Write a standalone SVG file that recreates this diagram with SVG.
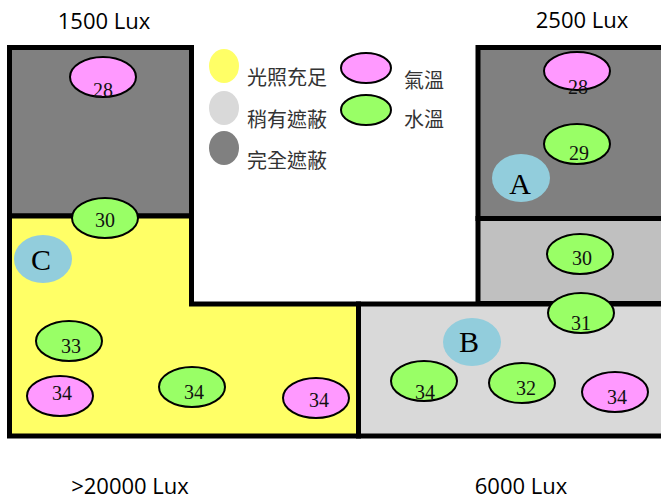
<svg xmlns="http://www.w3.org/2000/svg" width="661" height="499" viewBox="0 0 661 499">
  <style>
    .wall { stroke: #000; stroke-width: 5; stroke-linejoin: miter; }
    .dark { fill: #808080; }
    .sun { fill: #ffff66; }
    .part { fill: #d9d9d9; }
    .silver { fill: #c0c0c0; }
    .air { fill: #ff99ff; stroke: #000; stroke-width: 2; }
    .water { fill: #99ff66; stroke: #000; stroke-width: 2; }
    .zone { fill: #92cddc; }
    .num { font-family: "Liberation Serif", "Times New Roman", serif; font-size: 20px; fill: #111; text-anchor: middle; }
    .tag { font-family: "Liberation Serif", "Times New Roman", serif; font-size: 30px; fill: #000; text-anchor: middle; }
    .lux { font-family: "Open Sans", "Liberation Sans", sans-serif; font-size: 22px; fill: #000; text-anchor: middle; }
    .key { font-family: "Noto Sans CJK TC", "Noto Sans CJK SC", sans-serif; font-size: 20px; fill: #333; }
  </style>

  <!-- rooms -->
  <g id="room-left-shaded">
    <rect class="dark wall" x="9.5" y="47.5" width="182" height="168.5"/>
  </g>
  <g id="room-sunny">
    <polygon class="sun wall" points="9.5,216 191.5,216 191.5,304 358.5,304 358.5,436 9.5,436"/>
  </g>
  <g id="room-right-shaded">
    <rect class="dark wall" x="478" y="47.5" width="190" height="171"/>
  </g>
  <g id="room-right-partial">
    <rect class="silver wall" x="478" y="218.5" width="190" height="85"/>
  </g>
  <g id="room-bottom-partial">
    <rect class="part wall" x="358.5" y="304" width="310" height="132"/>
  </g>

  <!-- zone markers -->
  <g id="zone-A">
    <ellipse class="zone" cx="521" cy="178" rx="29" ry="24"/>
    <text class="tag" x="520" y="194">A</text>
  </g>
  <g id="zone-B">
    <ellipse class="zone" cx="472" cy="342" rx="29" ry="24"/>
    <text class="tag" x="469" y="352">B</text>
  </g>
  <g id="zone-C">
    <ellipse class="zone" cx="43" cy="259" rx="29" ry="24"/>
    <text class="tag" x="41" y="270">C</text>
  </g>

  <!-- temperature readings -->
  <g id="t-left-28">
    <ellipse class="air" cx="103" cy="77" rx="33" ry="20"/>
    <text class="num" x="103" y="97">28</text>
  </g>
  <g id="t-left-30">
    <ellipse class="water" cx="105" cy="218" rx="33" ry="20"/>
    <text class="num" x="105" y="227">30</text>
  </g>
  <g id="t-left-33">
    <ellipse class="water" cx="69" cy="341" rx="33" ry="20"/>
    <text class="num" x="71" y="353">33</text>
  </g>
  <g id="t-left-34a">
    <ellipse class="air" cx="60" cy="396" rx="33" ry="20"/>
    <text class="num" x="62" y="400">34</text>
  </g>
  <g id="t-mid-34">
    <ellipse class="water" cx="192" cy="387" rx="33" ry="20"/>
    <text class="num" x="194" y="399">34</text>
  </g>
  <g id="t-mid-34b">
    <ellipse class="air" cx="316" cy="398" rx="33" ry="20"/>
    <text class="num" x="319" y="407">34</text>
  </g>
  <g id="t-right-28">
    <ellipse class="air" cx="577" cy="71" rx="33" ry="19"/>
    <text class="num" x="578" y="94">28</text>
  </g>
  <g id="t-right-29">
    <ellipse class="water" cx="577" cy="144" rx="33" ry="20"/>
    <text class="num" x="579" y="160">29</text>
  </g>
  <g id="t-right-30">
    <ellipse class="water" cx="580" cy="254" rx="33" ry="20"/>
    <text class="num" x="582" y="265">30</text>
  </g>
  <g id="t-right-31">
    <ellipse class="water" cx="581" cy="313" rx="33" ry="20"/>
    <text class="num" x="581" y="330">31</text>
  </g>
  <g id="t-bottom-34a">
    <ellipse class="water" cx="424" cy="381" rx="33" ry="20"/>
    <text class="num" x="425" y="399">34</text>
  </g>
  <g id="t-bottom-32">
    <ellipse class="water" cx="522" cy="383" rx="33" ry="20"/>
    <text class="num" x="526" y="395">32</text>
  </g>
  <g id="t-bottom-34b">
    <ellipse class="air" cx="615" cy="392" rx="33" ry="20"/>
    <text class="num" x="617" y="404">34</text>
  </g>

  <!-- legend -->
  <g id="legend">
    <ellipse class="sun" cx="224" cy="66" rx="15" ry="17"/>
    <text class="key" x="247" y="85">光照充足</text>
    <ellipse class="part" cx="224" cy="108" rx="15" ry="17"/>
    <text class="key" x="247" y="127">稍有遮蔽</text>
    <ellipse class="dark" cx="224" cy="148" rx="15" ry="17"/>
    <text class="key" x="247" y="168">完全遮蔽</text>
    <ellipse class="air" cx="366" cy="68" rx="25" ry="15"/>
    <text class="key" x="404" y="88">氣溫</text>
    <ellipse class="water" cx="366" cy="110" rx="25" ry="15"/>
    <text class="key" x="404" y="127">水溫</text>
  </g>

  <!-- illuminance labels -->
  <g id="lux-labels">
    <text class="lux" x="104" y="29">1500 Lux</text>
    <text class="lux" x="582" y="28">2500 Lux</text>
    <text class="lux" x="130" y="494">&gt;20000 Lux</text>
    <text class="lux" x="521" y="494">6000 Lux</text>
  </g>
</svg>
